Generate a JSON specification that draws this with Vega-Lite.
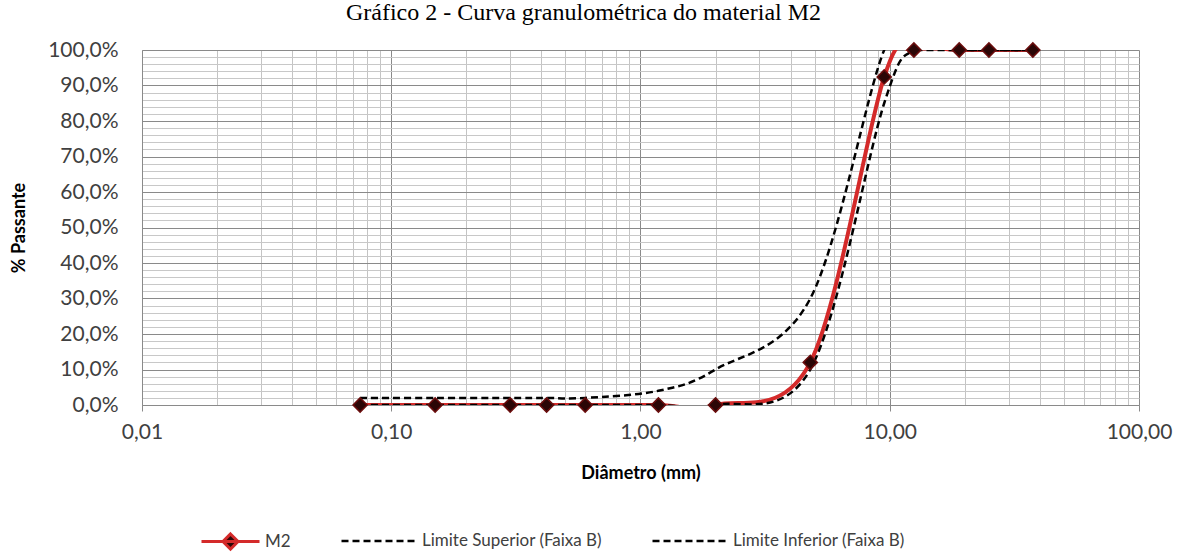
{
  "$schema": "https://vega.github.io/schema/vega-lite/v6.json",
  "autosize": "none",
  "width": 997,
  "height": 355,
  "padding": {"left": 142, "top": 50, "right": 47, "bottom": 154},
  "background": "white",
  "title": {
    "text": "Gráfico 2 - Curva granulométrica do material M2",
    "font": "Liberation Serif",
    "fontSize": 24,
    "fontWeight": "normal",
    "color": "#000000",
    "anchor": "middle",
    "dx": -57,
    "offset": 14
  },
  "config": {
    "view": {"stroke": null},
    "legend": {
      "labelFont": "Lato",
      "labelFontSize": 17,
      "labelColor": "#404040",
      "labelLimit": 0,
      "titleFont": "Lato"
    }
  },
  "datasets": {
    "m2": [
      {"diametro": 0.075, "passante": 0, "material": "M2"},
      {"diametro": 0.15, "passante": 0, "material": "M2"},
      {"diametro": 0.3, "passante": 0, "material": "M2"},
      {"diametro": 0.42, "passante": 0, "material": "M2"},
      {"diametro": 0.6, "passante": 0, "material": "M2"},
      {"diametro": 1.18, "passante": 0, "material": "M2"},
      {"diametro": 2.0, "passante": 0, "material": "M2"},
      {"diametro": 4.8, "passante": 12, "material": "M2"},
      {"diametro": 9.5, "passante": 92.4, "material": "M2"},
      {"diametro": 12.5, "passante": 100, "material": "M2"},
      {"diametro": 19, "passante": 100, "material": "M2"},
      {"diametro": 25, "passante": 100, "material": "M2"},
      {"diametro": 37.5, "passante": 100, "material": "M2"}
    ],
    "limites": [
      {"diametro": 0.075, "passante": 2, "curva": "Limite Superior (Faixa B)"},
      {"diametro": 0.15, "passante": 2, "curva": "Limite Superior (Faixa B)"},
      {"diametro": 0.3, "passante": 2, "curva": "Limite Superior (Faixa B)"},
      {"diametro": 0.42, "passante": 2, "curva": "Limite Superior (Faixa B)"},
      {"diametro": 0.6, "passante": 2, "curva": "Limite Superior (Faixa B)"},
      {"diametro": 1.18, "passante": 4, "curva": "Limite Superior (Faixa B)"},
      {"diametro": 2.0, "passante": 10, "curva": "Limite Superior (Faixa B)"},
      {"diametro": 4.8, "passante": 30, "curva": "Limite Superior (Faixa B)"},
      {"diametro": 9.5, "passante": 100, "curva": "Limite Superior (Faixa B)"},
      {"diametro": 12.5, "passante": 100, "curva": "Limite Superior (Faixa B)"},
      {"diametro": 19, "passante": 100, "curva": "Limite Superior (Faixa B)"},
      {"diametro": 25, "passante": 100, "curva": "Limite Superior (Faixa B)"},
      {"diametro": 37.5, "passante": 100, "curva": "Limite Superior (Faixa B)"},
      {"diametro": 0.075, "passante": 0, "curva": "Limite Inferior (Faixa B)"},
      {"diametro": 0.15, "passante": 0, "curva": "Limite Inferior (Faixa B)"},
      {"diametro": 0.3, "passante": 0, "curva": "Limite Inferior (Faixa B)"},
      {"diametro": 0.42, "passante": 0, "curva": "Limite Inferior (Faixa B)"},
      {"diametro": 0.6, "passante": 0, "curva": "Limite Inferior (Faixa B)"},
      {"diametro": 1.18, "passante": 0, "curva": "Limite Inferior (Faixa B)"},
      {"diametro": 2.0, "passante": 0, "curva": "Limite Inferior (Faixa B)"},
      {"diametro": 4.8, "passante": 10, "curva": "Limite Inferior (Faixa B)"},
      {"diametro": 9.5, "passante": 85, "curva": "Limite Inferior (Faixa B)"},
      {"diametro": 12.5, "passante": 100, "curva": "Limite Inferior (Faixa B)"},
      {"diametro": 19, "passante": 100, "curva": "Limite Inferior (Faixa B)"},
      {"diametro": 25, "passante": 100, "curva": "Limite Inferior (Faixa B)"},
      {"diametro": 37.5, "passante": 100, "curva": "Limite Inferior (Faixa B)"}
    ]
  },
  "encoding": {
    "x": {
      "field": "diametro",
      "type": "quantitative",
      "scale": {"type": "log", "domain": [0.01, 100], "nice": false},
      "axis": {
        "title": "Diâmetro (mm)",
        "titleFont": "Lato",
        "titleFontSize": 18,
        "titleFontWeight": "bold",
        "titleColor": "#000000",
        "titlePadding": 22,
        "values": [0.01, 0.02, 0.03, 0.04, 0.05, 0.06, 0.07, 0.08, 0.09, 0.1, 0.2, 0.3, 0.4, 0.5, 0.6, 0.7, 0.8, 0.9, 1, 2, 3, 4, 5, 6, 7, 8, 9, 10, 20, 30, 40, 50, 60, 70, 80, 90, 100],
        "labelExpr": "abs(log(datum.value)/LN10 - round(log(datum.value)/LN10)) < 0.001 ? replace(format(datum.value, '.2f'), '.', ',') : ''",
        "labelFont": "Lato",
        "labelFontSize": 21,
        "labelColor": "#404040",
        "labelPadding": 10,
        "labelFlush": false,
        "labelOverlap": false,
        "grid": true,
        "gridColor": {"condition": {"test": "abs(log(datum.value)/LN10 - round(log(datum.value)/LN10)) < 0.001", "value": "#8a8a8a"}, "value": "#c4c4c4"},
        "gridWidth": 1,
        "tickColor": {"condition": {"test": "abs(log(datum.value)/LN10 - round(log(datum.value)/LN10)) < 0.001", "value": "#8a8a8a"}, "value": "transparent"},
        "tickSize": 6,
        "domainColor": "#8a8a8a"
      }
    },
    "y": {
      "field": "passante",
      "type": "quantitative",
      "scale": {"domain": [0, 100], "nice": false},
      "axis": {
        "title": "% Passante",
        "titleFont": "Lato",
        "titleFontSize": 18,
        "titleFontWeight": "bold",
        "titleColor": "#000000",
        "titlePadding": 19,
        "values": [0, 2, 4, 6, 8, 10, 12, 14, 16, 18, 20, 22, 24, 26, 28, 30, 32, 34, 36, 38, 40, 42, 44, 46, 48, 50, 52, 54, 56, 58, 60, 62, 64, 66, 68, 70, 72, 74, 76, 78, 80, 82, 84, 86, 88, 90, 92, 94, 96, 98, 100],
        "labelExpr": "datum.value % 10 == 0 ? replace(format(datum.value, '.1f'), '.', ',') + '%' : ''",
        "labelFont": "Lato",
        "labelFontSize": 21,
        "labelColor": "#404040",
        "labelPadding": 24,
        "labelOverlap": false,
        "ticks": false,
        "grid": true,
        "gridColor": {"condition": {"test": "datum.value % 10 == 0", "value": "#8a8a8a"}, "value": "#c8c8c8"},
        "gridWidth": 1,
        "domainColor": "#8a8a8a"
      }
    }
  },
  "layer": [
    {
      "data": {"name": "m2"},
      "mark": {"type": "line", "interpolate": "cardinal", "strokeWidth": 4, "clip": true},
      "encoding": {
        "color": {
          "field": "material",
          "type": "nominal",
          "scale": {"domain": ["M2"], "range": ["#d42a2a"]},
          "legend": {
            "title": null,
            "orient": "none",
            "legendX": 58,
            "legendY": 461,
            "symbolType": "M-1,0H1M0,-0.26L0.26,0L0,0.26L-0.26,0Z",
            "symbolSize": 3364,
            "symbolStrokeWidth": 3,
            "symbolFillColor": "#2b0606",
            "encode": {"symbols": {"update": {"fill": {"value": "#2b0606"}, "stroke": {"value": "#d42a2a"}}}}
          }
        }
      }
    },
    {
      "data": {"name": "limites"},
      "mark": {"type": "line", "interpolate": "cardinal", "strokeWidth": 2.5, "color": "#000000", "clip": true},
      "encoding": {
        "strokeDash": {
          "field": "curva",
          "type": "nominal",
          "scale": {"domain": ["Limite Superior (Faixa B)", "Limite Inferior (Faixa B)"], "range": [[7, 4], [7, 4]]},
          "legend": {
            "title": null,
            "orient": "none",
            "direction": "horizontal",
            "legendX": 198,
            "legendY": 452,
            "symbolType": "stroke",
            "symbolSize": 5625,
            "symbolStrokeWidth": 2.5,
            "symbolStrokeColor": "#000000",
            "columnPadding": 44
          }
        }
      }
    },
    {
      "data": {"name": "m2"},
      "mark": {"type": "point", "shape": "diamond", "filled": true, "size": 200, "fill": "#2b0606", "stroke": "#6a0d0d", "strokeWidth": 1.5, "opacity": 1}
    }
  ]
}
